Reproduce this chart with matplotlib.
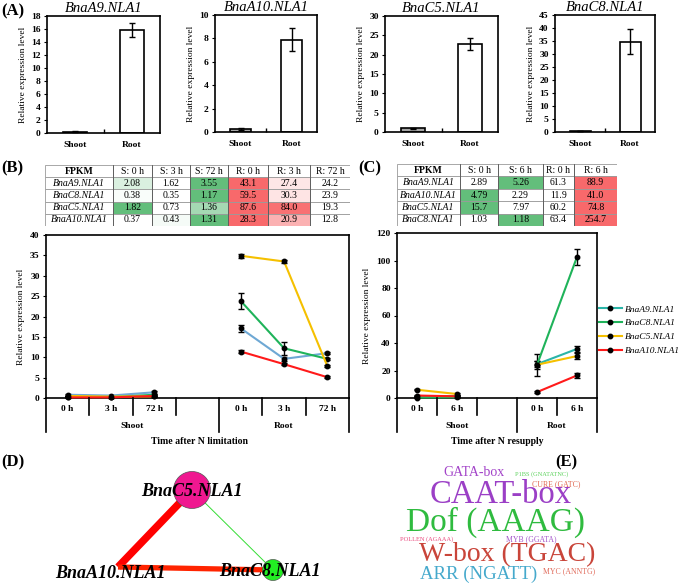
import numpy as np
import matplotlib
matplotlib.use('Agg')
import matplotlib.pyplot as plt
from matplotlib.patches import Rectangle, Circle
from matplotlib.lines import Line2D

plt.rcParams['font.family'] = ['Liberation Serif', 'DejaVu Serif']
plt.rcParams['font.weight'] = 'bold'

# ---- data ----
# (A) shoot vs root
a_genes = ['BnaA9.NLA1', 'BnaA10.NLA1', 'BnaC5.NLA1', 'BnaC8.NLA1']
a_tissues = ['Shoot', 'Root']
a_mean = [[0.2, 15.8], [0.25, 7.9], [1.0, 22.7], [0.3, 34.7]]
a_err = [[0.05, 1.1], [0.05, 0.95], [0.15, 1.6], [0.1, 4.8]]
a_ymax = [18, 10, 30, 45]
a_ystep = [2, 2, 5, 5]

# (B) N limitation
b_cats = ['0 h', '3 h', '72 h', '', '0 h', '3 h', '72 h']
b_x_shoot = [0, 1, 2]
b_x_root = [4, 5, 6]
b_genes = ['BnaA9.NLA1', 'BnaC8.NLA1', 'BnaC5.NLA1', 'BnaA10.NLA1']
b_shoot = [[0.8, 0.6, 1.4], [0.3, 0.2, 0.8], [0.5, 0.35, 0.4], [0.15, 0.15, 0.5]]
b_shoot_err = [[0.2, 0.15, 0.3], [0.1, 0.1, 0.3], [0.1, 0.1, 0.1], [0.05, 0.05, 0.2]]
b_root = [[17.1, 9.6, 11.0], [23.8, 12.2, 9.6], [34.9, 33.5, 7.8], [11.4, 8.3, 5.1]]
b_root_err = [[0.8, 0.4, 0.3], [2.0, 1.6, 0.3], [0.5, 0.3, 0.3], [0.3, 0.3, 0.2]]

tb_cols = ['FPKM', 'S: 0 h', 'S: 3 h', 'S: 72 h', 'R: 0 h', 'R: 3 h', 'R: 72 h']
tb_rows = ['BnaA9.NLA1', 'BnaC8.NLA1', 'BnaC5.NLA1', 'BnaA10.NLA1']
tb_vals = [[2.08, 1.62, 3.55, 43.1, 27.4, 24.2],
           [0.38, 0.35, 1.17, 59.5, 30.3, 23.9],
           [1.82, 0.73, 1.36, 87.6, 84.0, 19.3],
           [0.37, 0.43, 1.31, 28.3, 20.9, 12.8]]

# (C) N resupply
c_cats = ['0 h', '6 h', '', '0 h', '6 h']
c_x_shoot = [0, 1]
c_x_root = [3, 4]
c_genes = ['BnaA9.NLA1', 'BnaC8.NLA1', 'BnaC5.NLA1', 'BnaA10.NLA1']
c_shoot = [[1.0, 1.5], [0.3, 0.5], [6.0, 2.9], [1.8, 1.2]]
c_shoot_err = [[0.3, 0.5], [0.2, 0.3], [0.4, 0.5], [0.3, 0.3]]
c_root = [[24.6, 35.7], [24.1, 102.6], [24.2, 30.5], [4.3, 16.4]]
c_root_err = [[2.0, 2.4], [8.2, 5.8], [3.0, 2.4], [0.5, 1.8]]

tc_cols = ['FPKM', 'S: 0 h', 'S: 6 h', 'R: 0 h', 'R: 6 h']
tc_rows = ['BnaA9.NLA1', 'BnaA10.NLA1', 'BnaC5.NLA1', 'BnaC8.NLA1']
tc_vals = [[2.89, 5.26, 61.3, 88.9],
           [4.79, 2.29, 11.9, 41.0],
           [15.7, 7.97, 60.2, 74.8],
           [1.03, 1.18, 63.4, 254.7]]

# (D) co-expression network
net_nodes = ['BnaC5.NLA1', 'BnaA10.NLA1', 'BnaC8.NLA1']
net_size = [18.5, 0, 10.5]
net_edges = [('BnaC5.NLA1', 'BnaA10.NLA1', 5.4), ('BnaA10.NLA1', 'BnaC8.NLA1', 3.8),
             ('BnaC5.NLA1', 'BnaC8.NLA1', 0.7)]

# (E) cis-element word cloud
words = ['GATA-box', 'P1BS (GNATATNC)', 'CURE (GATC)', 'CAAT-box', 'Dof (AAAG)',
         'POLLEN (AGAAA)', 'MYB (GGATA)', 'W-box (TGAC)', 'ARR (NGATT)', 'MYC (ANNTG)']
word_size = [10, 4.6, 5.6, 23.5, 24, 4.6, 5.6, 20, 13.5, 5.6]

W, H = 685, 585
fig = plt.figure(figsize=(6.85, 5.85), dpi=100)


def axes_px(l, t, r, b):
    return fig.add_axes([l / W, 1 - b / H, (r - l) / W, (b - t) / H])


def ftext(x, y, s, **kw):
    return fig.text(x / W, 1 - y / H, s, **kw)


# ---- (A) ----
a_boxes = [(47, 16, 160, 133), (215, 15, 317, 132), (385, 16, 498, 132), (555, 15, 655, 132)]
for i, g in enumerate(a_genes):
    ax = axes_px(*a_boxes[i])
    ax.bar([0, 1], a_mean[i], width=0.42, color=['#a6a6a6', 'white'], edgecolor='black', lw=1.2,
           yerr=a_err[i], error_kw=dict(ecolor='black', elinewidth=1, capsize=2.5, capthick=1))
    ax.set_xlim(-0.5, 1.5)
    ax.set_ylim(0, a_ymax[i])
    ax.set_yticks(np.arange(0, a_ymax[i] + 0.1, a_ystep[i]))
    ax.set_xticks([0, 1])
    ax.set_xticklabels(a_tissues, fontsize=6.8)
    ax.set_xticks([0.5], minor=True)
    ax.tick_params(axis='x', which='major', length=0, pad=6)
    ax.tick_params(axis='x', which='minor', length=3, direction='in', width=1)
    ax.tick_params(axis='y', length=2.5, width=0.8, labelsize=6.8, pad=2)
    for s in ax.spines.values():
        s.set_linewidth(1.2)
    ax.set_ylabel('Relative expression level', fontsize=6.8, labelpad=3)
    ax.set_title(g, fontsize=10.5, style='italic', pad=3)


# ---- tables ----
def cell_color(v, lo, hi, full):
    f = 0 if hi == lo else (v - lo) / (hi - lo)
    w = np.array([1.0, 1.0, 1.0])
    c = np.array(matplotlib.colors.to_rgb(full))
    return tuple(w + (c - w) * f)


def draw_table(box, widths, cols, rows, vals, n_shoot):
    l, t, r, b = box
    ax = axes_px(l, t, r, b)
    ax.set_xlim(0, r - l)
    ax.set_ylim(b - t, 0)
    ax.axis('off')
    edges = np.concatenate([[0], np.cumsum(widths)])
    rh = (b - t) / (len(rows) + 1)
    for j, c in enumerate(cols):
        ax.add_patch(Rectangle((edges[j], 0), widths[j], rh, fc='white', ec='#9a9a9a', lw=0.6))
        ax.text(edges[j] + widths[j] / 2, rh / 2, c, ha='center', va='center', fontsize=7,
                fontweight='bold' if j == 0 else 'normal')
    for i, rname in enumerate(rows):
        y0 = rh * (i + 1)
        ax.add_patch(Rectangle((0, y0), widths[0], rh, fc='white', ec='#9a9a9a', lw=0.6))
        ax.text(widths[0] / 2, y0 + rh / 2, rname, ha='center', va='center', fontsize=7,
                style='italic', fontweight='normal')
        sh = vals[i][:n_shoot]
        rt = vals[i][n_shoot:]
        for j, v in enumerate(vals[i]):
            if j < n_shoot:
                fc = cell_color(v, min(sh), max(sh), '#63be7b')
            else:
                fc = cell_color(v, min(rt), max(rt), '#f8696b')
            ax.add_patch(Rectangle((edges[j + 1], y0), widths[j + 1], rh, fc=fc, ec='#9a9a9a', lw=0.6))
            txt = '%.2f' % v if v < 10 else '%.1f' % v
            ax.text(edges[j + 1] + widths[j + 1] / 2, y0 + rh / 2, txt, ha='center', va='center',
                    fontsize=7, fontweight='normal')
    for x in edges[1:-1]:
        ax.plot([x, x], [0, b - t], color='#555555', lw=0.6)


draw_table((45, 165, 350, 226), [68, 39, 38, 38, 40, 42, 40], tb_cols, tb_rows, tb_vals, 3)
draw_table((397, 164, 617, 226), [63, 38, 45, 31, 43], tc_cols, tc_rows, tc_vals, 2)


# ---- line panels ----
def line_panel(box, cats, x_sh, x_rt, sh, sh_e, rt, rt_e, colors, ymax, ystep, group_b, xlabel, xl_x):
    l, t, r, b = box
    ax = axes_px(l, t, r, b)
    n = len(cats)
    for i in range(len(colors)):
        for xs, ys, es in ((x_sh, sh[i], sh_e[i]), (x_rt, rt[i], rt_e[i])):
            ax.errorbar(xs, ys, yerr=es, color=colors[i], lw=1.5, marker='o', ms=3.2,
                        mfc='black', mec='black', ecolor='black', elinewidth=1, capsize=2,
                        capthick=1, clip_on=False, zorder=3)
    ax.set_xlim(-0.5, n - 0.5)
    ax.set_ylim(0, ymax)
    ax.set_yticks(np.arange(0, ymax + 0.1, ystep))
    ax.set_xticks([])
    ax.tick_params(axis='y', length=2.5, width=0.8, labelsize=6.8, pad=2)
    for s in ax.spines.values():
        s.set_linewidth(1.2)
    ax.set_ylabel('Relative expression level', fontsize=6.8, labelpad=4)
    # multi-level category axis
    lab = axes_px(l, b, r, b + 34)
    lab.set_xlim(-0.5, n - 0.5)
    lab.set_ylim(34, 0)
    lab.axis('off')
    for k in range(n + 1):
        x = k - 0.5
        h = 34 if (x in group_b) else 17
        lab.plot([x, x], [0, h], color='black', lw=1.2, clip_on=False)
    for k, c in enumerate(cats):
        if c:
            lab.text(k, 11, c, ha='center', va='center', fontsize=6.8)
    lab.text((group_b[0] + group_b[1]) / 2, 28, 'Shoot', ha='center', va='center', fontsize=6.8)
    lab.text((group_b[1] + group_b[2]) / 2, 28, 'Root', ha='center', va='center', fontsize=6.8)
    ftext(xl_x, b + 44, xlabel, ha='center', va='center', fontsize=7)
    return ax


b_colors = ['#6ea8d4', '#1fb35a', '#f5c000', '#ff1a1a']
line_panel((46, 235, 349, 398), b_cats, b_x_shoot, b_x_root, b_shoot, b_shoot_err, b_root, b_root_err,
           b_colors, 40, 5, [-0.5, 3.5, 6.5], 'Time after N limitation', 200)

c_colors = ['#2ab5a8', '#1fb35a', '#f5c000', '#ff1a1a']
axC = line_panel((397, 233, 597, 398), c_cats, c_x_shoot, c_x_root, c_shoot, c_shoot_err, c_root,
                 c_root_err, c_colors, 120, 20, [-0.5, 2.5, 4.5], 'Time after N resupply', 497)

handles = [Line2D([], [], color=c, lw=1.5, marker='o', ms=3.2, mfc='black', mec='black')
           for c in c_colors]
fig.legend(handles, c_genes, loc='center left', bbox_to_anchor=(599 / W, 1 - 330 / H),
           frameon=False, borderpad=0, borderaxespad=0, handlelength=2.4, handletextpad=0.3,
           labelspacing=0.55,
           prop=dict(family='Liberation Serif', style='italic', weight='normal', size=6.8))

# ---- panel labels ----
for s, x, y in [('(A)', 1, 11), ('(B)', 1, 168), ('(C)', 358, 168), ('(D)', 1, 462), ('(E)', 555, 462)]:
    ftext(x, y, s, ha='left', va='center', fontsize=12)

# ---- (D) network ----
axD = axes_px(0, 440, 400, 585)
axD.set_xlim(0, 400)
axD.set_ylim(585, 440)
axD.axis('off')
node_pos = {'BnaC5.NLA1': (192, 490), 'BnaA10.NLA1': (118, 567), 'BnaC8.NLA1': (273, 570)}
node_col = {'BnaC5.NLA1': '#f01890', 'BnaA10.NLA1': '#ff0000', 'BnaC8.NLA1': '#22ee22'}
edge_col = ['#ff0000', '#ff2400', '#33dd33']
for k, (a, b, w) in enumerate(net_edges):
    (x0, y0), (x1, y1) = node_pos[a], node_pos[b]
    axD.plot([x0, x1], [y0, y1], color=edge_col[k], lw=w, solid_capstyle='butt', zorder=1)
for nme, rad in zip(net_nodes, net_size):
    if rad > 0:
        axD.add_patch(Circle(node_pos[nme], rad, fc=node_col[nme], ec='#555555', lw=0.5, zorder=2))
label_pos = {'BnaC5.NLA1': (192, 491), 'BnaA10.NLA1': (110, 573), 'BnaC8.NLA1': (270, 572)}
for nme in net_nodes:
    axD.text(*label_pos[nme], nme, ha='center', va='center', fontsize=13, style='italic', zorder=3)

# ---- (E) word cloud ----
axE = axes_px(395, 455, 685, 585)
axE.set_xlim(395, 685)
axE.set_ylim(585, 455)
axE.axis('off')
word_pos = [(474, 473), (542, 474), (556, 484), (501, 495), (495, 522),
            (427, 539), (531, 539), (507, 555), (479, 574), (569, 571)]
word_col = ['#a344c9', '#5fd35f', '#e0654f', '#9b3fc6', '#2fbb3f',
            '#ea4a7f', '#a354c9', '#c9453a', '#45a9cc', '#e06a5a']
for wd, (x, y), sz, c in zip(words, word_pos, word_size, word_col):
    axE.text(x, y, wd, ha='center', va='center', fontsize=sz, color=c, fontweight='normal')

fig.savefig('out.png', dpi=100)
